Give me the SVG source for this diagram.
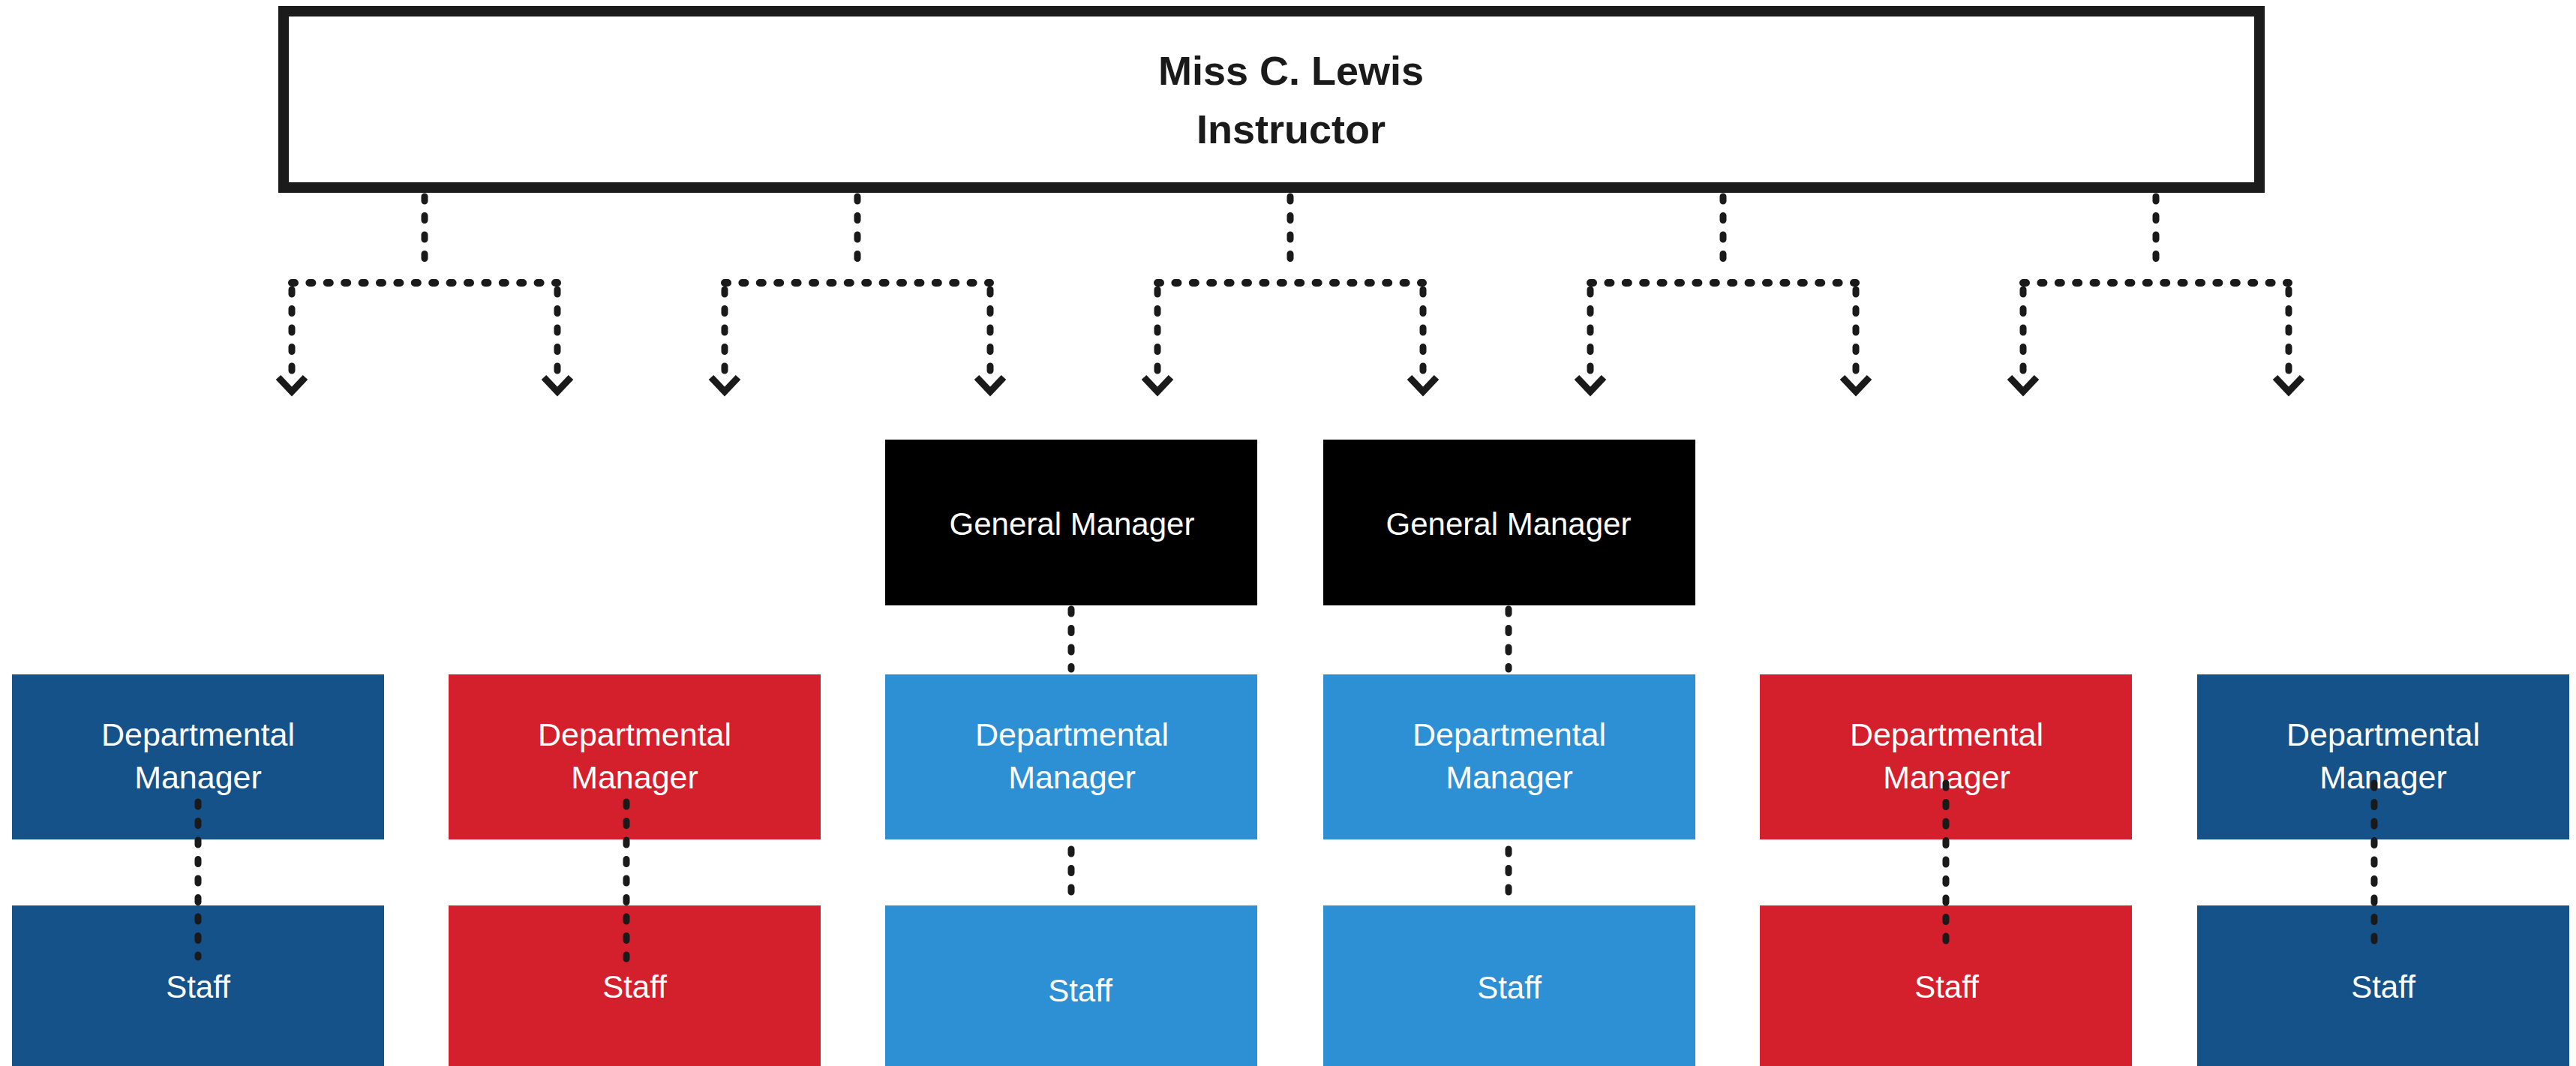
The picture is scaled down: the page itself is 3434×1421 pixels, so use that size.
<svg xmlns="http://www.w3.org/2000/svg" width="3434" height="1421" viewBox="0 0 3434 1421">
  <style>
    .lbl { font-family: "Liberation Sans", Arial, sans-serif; fill: #ffffff; text-anchor: middle; }
    .dm { font-size: 43px; }
    .gm { font-size: 42px; }
    .st { font-size: 42px; }
    .head { font-family: "Liberation Sans", Arial, sans-serif; font-weight: bold; font-size: 54px; fill: #1a1a1a; text-anchor: middle; }
    .navy { fill: #16528A; }
    .red { fill: #D4202C; }
    .sky { fill: #2D90D4; }
    .black { fill: #000000; }
    .dash { fill: none; stroke: #1a1a1a; stroke-width: 9; stroke-linecap: round; stroke-dasharray: 6 19.5; }
    .dots { fill: none; stroke: #1a1a1a; stroke-width: 10; stroke-linecap: round; stroke-dasharray: 4 19.4; }
  </style>
  <defs>
    <marker id="chev" markerUnits="userSpaceOnUse" orient="auto" refX="0" refY="0" markerWidth="40" markerHeight="40" overflow="visible">
      <path d="M0,-18 L19,0 L0,18" fill="none" stroke="#1a1a1a" stroke-width="9" stroke-linejoin="miter"/>
    </marker>
  </defs>

  <rect width="3434" height="1421" fill="#ffffff"/>

  <!-- instructor -->
  <g id="instructor">
    <rect x="378" y="15" width="2634" height="235" fill="#ffffff" stroke="#1b1b1b" stroke-width="14"/>
    <text class="head" x="1721" y="113">Miss C. Lewis</text>
    <text class="head" x="1721" y="191">Instructor</text>
  </g>

  <!-- general managers -->
  <g id="gm1">
    <rect class="black" x="1180" y="586" width="496" height="221"/>
    <text class="lbl gm" x="1429" y="713">General Manager</text>
  </g>
  <g id="gm2">
    <rect class="black" x="1764" y="586" width="496" height="221"/>
    <text class="lbl gm" x="2011" y="713">General Manager</text>
  </g>

  <!-- departmental managers -->
  <g id="dm1">
    <rect class="navy" x="16" y="899" width="496" height="220"/>
    <text class="lbl dm" x="264" y="994">Departmental</text>
    <text class="lbl dm" x="264" y="1051">Manager</text>
  </g>
  <g id="dm2">
    <rect class="red" x="598" y="899" width="496" height="220"/>
    <text class="lbl dm" x="846" y="994">Departmental</text>
    <text class="lbl dm" x="846" y="1051">Manager</text>
  </g>
  <g id="dm3">
    <rect class="sky" x="1180" y="899" width="496" height="220"/>
    <text class="lbl dm" x="1429" y="994">Departmental</text>
    <text class="lbl dm" x="1429" y="1051">Manager</text>
  </g>
  <g id="dm4">
    <rect class="sky" x="1764" y="899" width="496" height="220"/>
    <text class="lbl dm" x="2012" y="994">Departmental</text>
    <text class="lbl dm" x="2012" y="1051">Manager</text>
  </g>
  <g id="dm5">
    <rect class="red" x="2346" y="899" width="496" height="220"/>
    <text class="lbl dm" x="2595" y="994">Departmental</text>
    <text class="lbl dm" x="2595" y="1051">Manager</text>
  </g>
  <g id="dm6">
    <rect class="navy" x="2929" y="899" width="496" height="220"/>
    <text class="lbl dm" x="3177" y="994">Departmental</text>
    <text class="lbl dm" x="3177" y="1051">Manager</text>
  </g>

  <!-- staff -->
  <g id="staff1">
    <rect class="navy" x="16" y="1207" width="496" height="220"/>
    <text class="lbl st" x="264" y="1330">Staff</text>
  </g>
  <g id="staff2">
    <rect class="red" x="598" y="1207" width="496" height="220"/>
    <text class="lbl st" x="846" y="1330">Staff</text>
  </g>
  <g id="staff3">
    <rect class="sky" x="1180" y="1207" width="496" height="220"/>
    <text class="lbl st" x="1440" y="1335">Staff</text>
  </g>
  <g id="staff4">
    <rect class="sky" x="1764" y="1207" width="496" height="220"/>
    <text class="lbl st" x="2012" y="1331">Staff</text>
  </g>
  <g id="staff5">
    <rect class="red" x="2346" y="1207" width="496" height="220"/>
    <text class="lbl st" x="2595" y="1330">Staff</text>
  </g>
  <g id="staff6">
    <rect class="navy" x="2929" y="1207" width="496" height="220"/>
    <text class="lbl st" x="3177" y="1330">Staff</text>
  </g>

  <!-- connectors -->
  <g id="connectors">
    <!-- drops from the instructor box -->
    <path class="dash" d="M566,262 V364 M1143,262 V364 M1720,262 V364 M2297,262 V364 M2874,262 V364"/>
    <!-- horizontal bars -->
    <path class="dots" d="M389,377 H743 M966,377 H1320 M1543,377 H1897 M2120,377 H2474 M2697,377 H3051"/>
    <!-- branch arrows -->
    <path class="dash" marker-end="url(#chev)" d="M389,386 V503"/>
    <path class="dash" marker-end="url(#chev)" d="M743,386 V503"/>
    <path class="dash" marker-end="url(#chev)" d="M966,386 V503"/>
    <path class="dash" marker-end="url(#chev)" d="M1320,386 V503"/>
    <path class="dash" marker-end="url(#chev)" d="M1543,386 V503"/>
    <path class="dash" marker-end="url(#chev)" d="M1897,386 V503"/>
    <path class="dash" marker-end="url(#chev)" d="M2120,386 V503"/>
    <path class="dash" marker-end="url(#chev)" d="M2474,386 V503"/>
    <path class="dash" marker-end="url(#chev)" d="M2697,386 V503"/>
    <path class="dash" marker-end="url(#chev)" d="M3051,386 V503"/>
    <!-- general manager to departmental manager -->
    <path class="dash" d="M1428,812 V892 M2011,812 V892"/>
    <!-- departmental manager to staff -->
    <path class="dash" d="M1428,1132 V1207 M2011,1132 V1207"/>
    <path class="dash" d="M264,1069 V1276 M835,1069 V1278"/>
    <path class="dash" d="M2594,1044 V1254 M3165,1044 V1254"/>
  </g>
</svg>
